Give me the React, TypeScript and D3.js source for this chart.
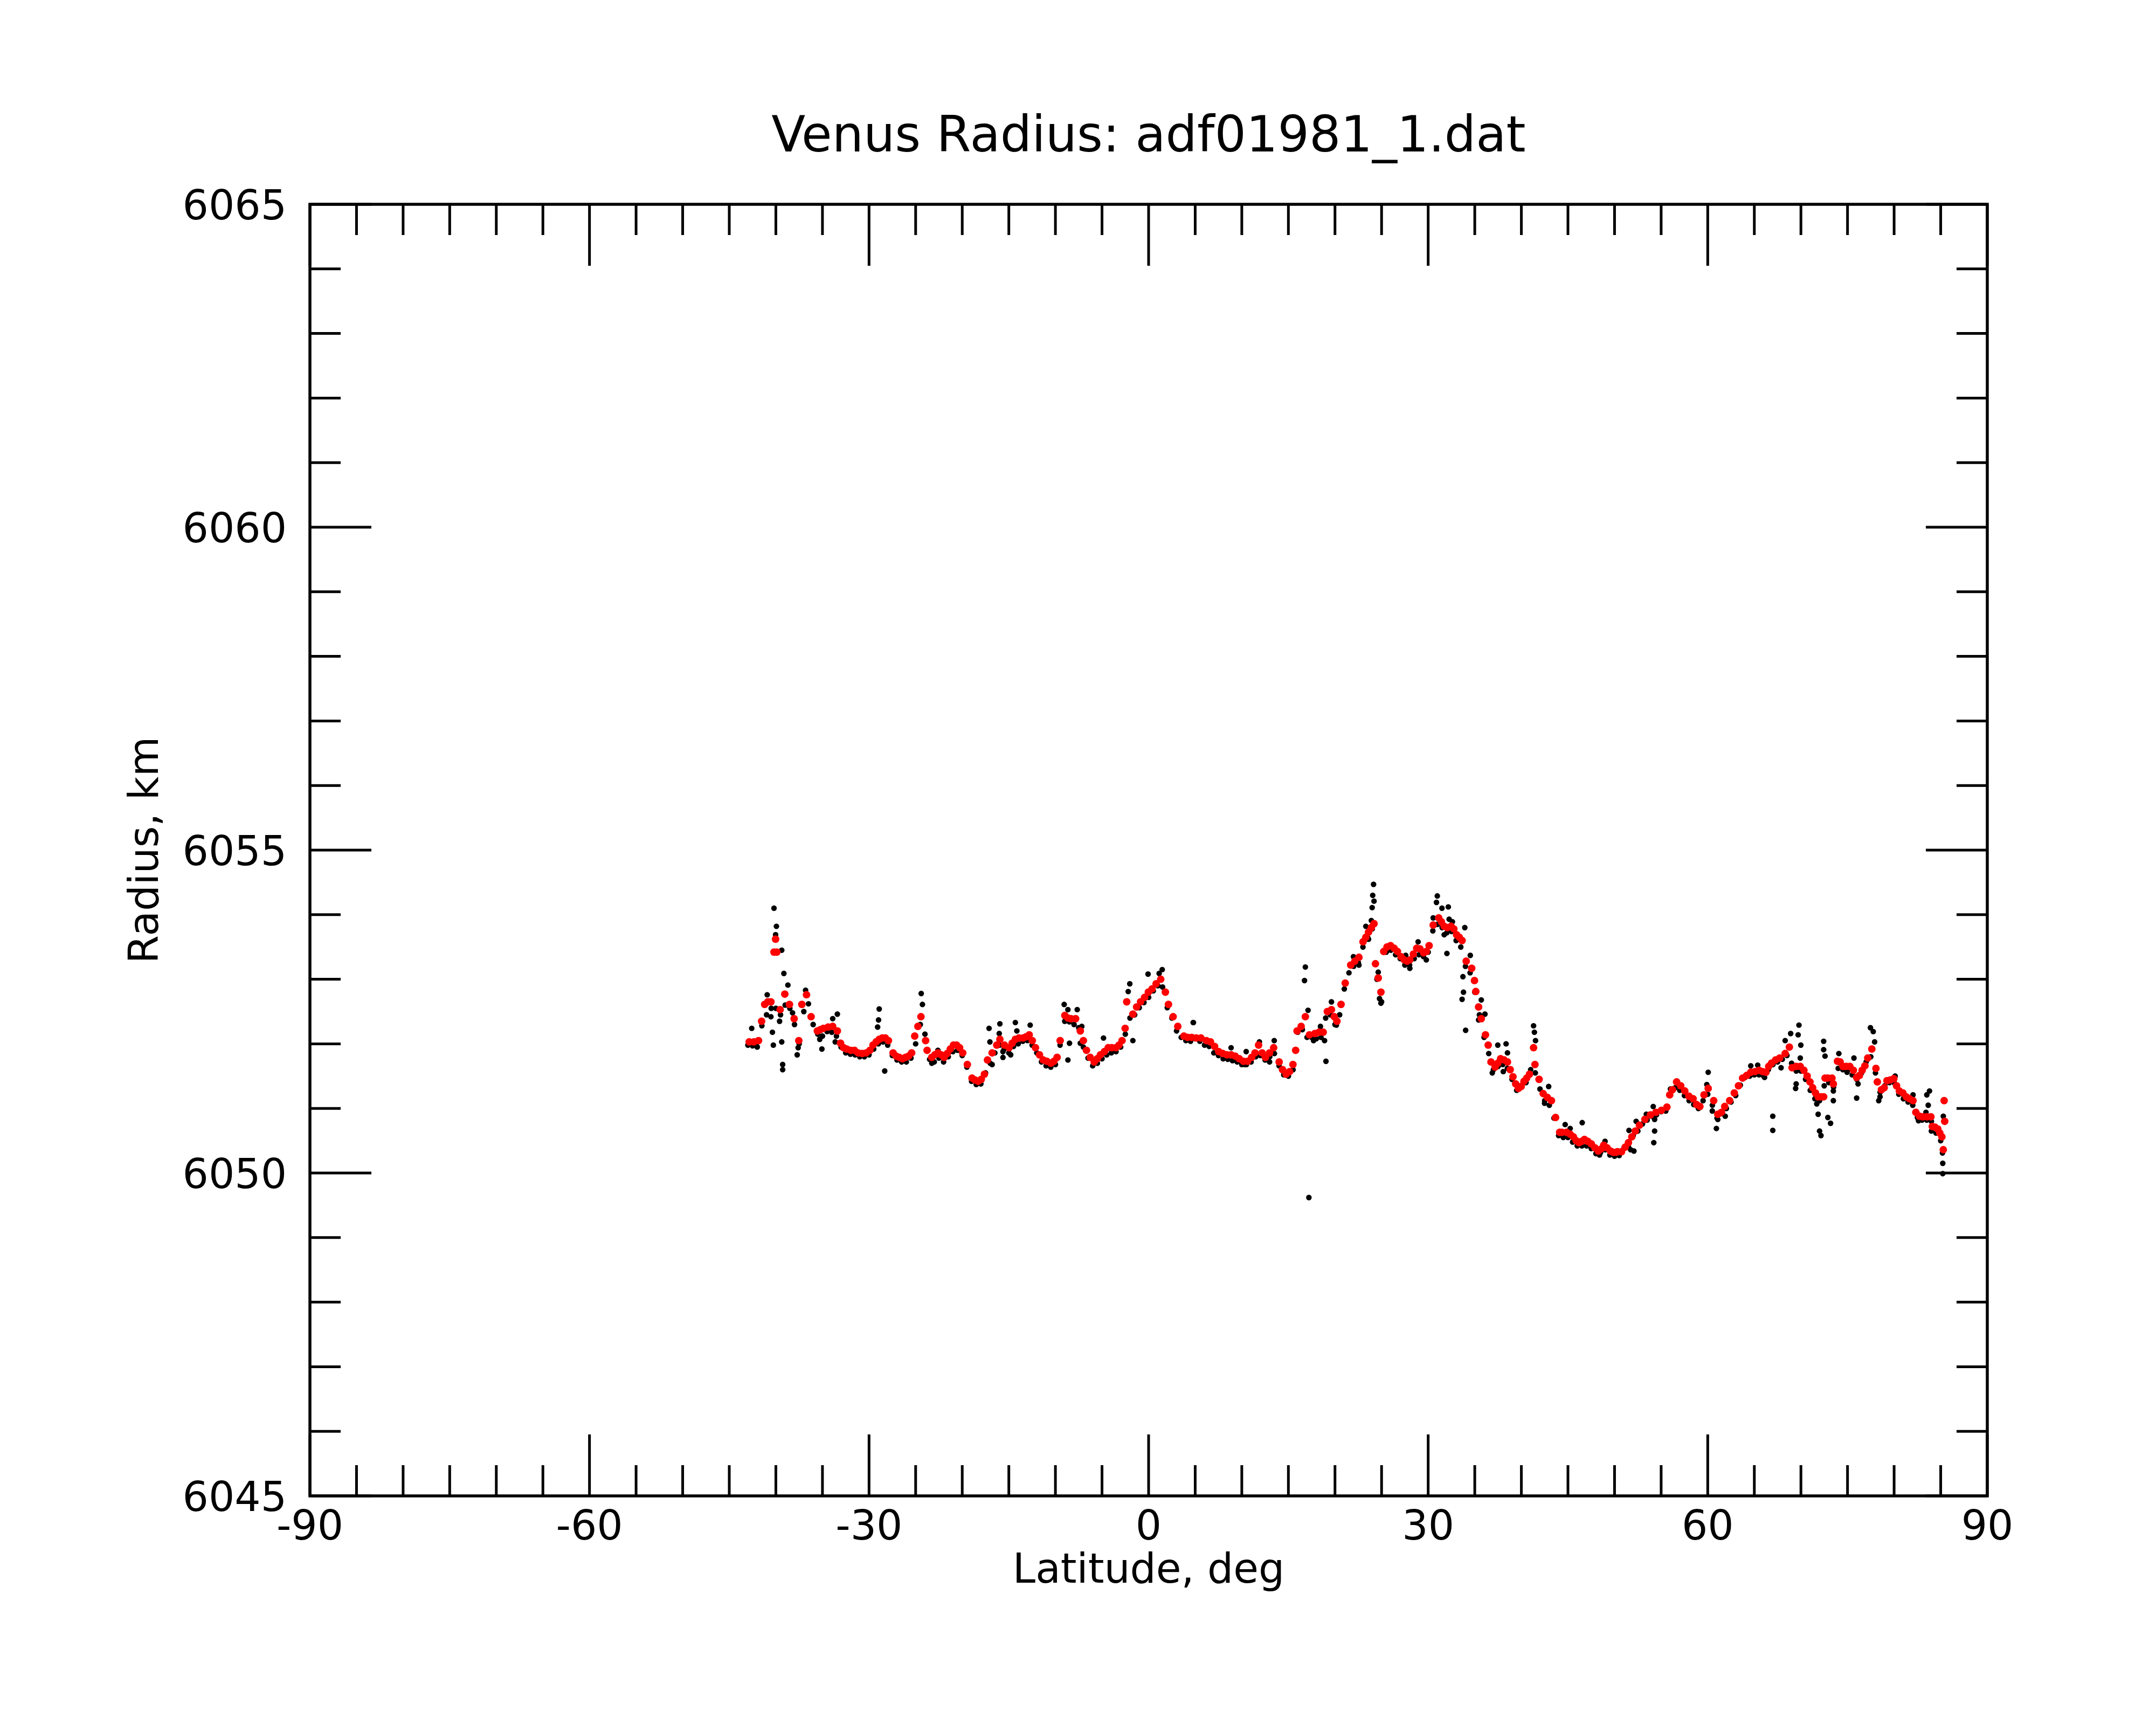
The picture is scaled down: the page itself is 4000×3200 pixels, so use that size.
import * as d3 from 'd3';

const W = 4000, H = 3200;
const M = { left: 575, right: 3687, top: 379, bottom: 2775 };

const TITLE = 'Venus Radius: adf01981_1.dat';
const X_LABEL = 'Latitude, deg';
const Y_LABEL = 'Radius, km';

const X_TICKS = [-90, -60, -30, 0, 30, 60, 90];
const Y_TICKS = [6045, 6050, 6055, 6060, 6065];

// smoothed profile (red) : [latitude, radius]
const SMOOTH: [number, number][] = [
  [-42.86, 6052.03], [-42.36, 6052.03], [-41.86, 6052.05], [-41.53, 6052.35], [-41.2, 6052.61],
  [-40.86, 6052.65], [-40.53, 6052.65], [-40.2, 6053.42], [-40.03, 6053.62], [-39.9, 6053.42],
  [-39.54, 6052.53], [-39.04, 6052.77], [-38.54, 6052.61], [-38.04, 6052.39], [-37.54, 6052.05],
  [-37.21, 6052.61], [-36.71, 6052.76], [-36.22, 6052.42], [-35.55, 6052.2], [-35.22, 6052.22],
  [-34.89, 6052.24], [-34.39, 6052.26], [-33.9, 6052.27], [-33.4, 6052.2], [-33.06, 6052.01],
  [-32.73, 6051.94], [-32.4, 6051.92], [-31.97, 6051.9], [-31.57, 6051.9], [-31.17, 6051.86],
  [-30.74, 6051.85], [-30.31, 6051.86], [-29.91, 6051.9], [-29.58, 6051.98], [-29.24, 6052.03],
  [-28.91, 6052.07], [-28.58, 6052.09], [-28.25, 6052.09], [-27.92, 6052.05], [-27.42, 6051.86],
  [-27.09, 6051.81], [-26.76, 6051.79], [-26.42, 6051.77], [-26.09, 6051.79], [-25.76, 6051.81],
  [-25.43, 6051.86], [-25.1, 6052.12], [-24.76, 6052.27], [-24.43, 6052.42], [-23.93, 6052.05],
  [-23.77, 6051.9], [-23.27, 6051.79], [-22.94, 6051.83], [-22.61, 6051.86], [-22.27, 6051.83],
  [-21.94, 6051.79], [-21.61, 6051.85], [-21.28, 6051.92], [-20.94, 6051.98], [-20.61, 6051.98],
  [-20.28, 6051.94], [-19.95, 6051.86], [-19.45, 6051.68], [-18.95, 6051.47], [-18.62, 6051.44],
  [-18.29, 6051.42], [-17.96, 6051.45], [-17.62, 6051.53], [-17.29, 6051.75], [-16.79, 6051.86],
  [-16.3, 6051.98], [-15.96, 6052.07], [-15.47, 6051.98], [-14.97, 6051.94], [-14.64, 6052.01],
  [-14.3, 6052.07], [-13.91, 6052.09], [-13.47, 6052.09], [-13.14, 6052.11], [-12.81, 6052.14],
  [-12.48, 6052.05], [-12.14, 6051.94], [-11.71, 6051.83], [-11.31, 6051.75], [-10.92, 6051.73],
  [-10.48, 6051.7], [-10.16, 6051.73], [-9.82, 6051.79], [-9.49, 6052.05], [-8.99, 6052.44],
  [-8.66, 6052.4], [-8.33, 6052.39], [-7.83, 6052.39], [-7.33, 6052.2], [-7.0, 6052.05],
  [-6.67, 6051.9], [-6.27, 6051.79], [-5.84, 6051.72], [-5.51, 6051.77], [-5.17, 6051.83],
  [-4.74, 6051.88], [-4.34, 6051.94], [-3.95, 6051.94], [-3.51, 6051.94], [-3.18, 6051.98],
  [-2.85, 6052.05], [-2.52, 6052.24], [-2.35, 6052.65], [-1.69, 6052.46], [-1.29, 6052.57],
  [-0.86, 6052.65], [-0.43, 6052.72], [-0.03, 6052.8], [0.37, 6052.85], [0.8, 6052.93],
  [1.3, 6053.0], [1.8, 6052.8], [2.13, 6052.61], [2.63, 6052.42], [3.13, 6052.27],
  [3.79, 6052.12], [4.19, 6052.1], [4.62, 6052.1], [5.12, 6052.09], [5.62, 6052.09],
  [6.21, 6052.05], [6.64, 6052.03], [7.08, 6051.96], [7.52, 6051.88], [7.96, 6051.85],
  [8.41, 6051.83], [8.85, 6051.83], [9.29, 6051.81], [9.73, 6051.77], [10.18, 6051.73],
  [10.62, 6051.73], [11.06, 6051.79], [11.42, 6051.86], [11.8, 6051.98], [12.18, 6051.86],
  [12.54, 6051.79], [12.98, 6051.86], [13.42, 6051.94], [14.01, 6051.72], [14.37, 6051.6],
  [14.75, 6051.53], [15.13, 6051.57], [15.49, 6051.68], [15.78, 6051.9], [15.93, 6052.2],
  [16.37, 6052.27], [16.82, 6052.42], [17.26, 6052.14], [17.85, 6052.16], [18.29, 6052.18],
  [18.74, 6052.18], [19.18, 6052.5], [19.62, 6052.53], [19.92, 6052.42], [20.21, 6052.35],
  [20.65, 6052.61], [21.1, 6052.94], [21.69, 6053.22], [22.13, 6053.28], [22.57, 6053.34],
  [23.01, 6053.58], [23.31, 6053.65], [23.6, 6053.73], [23.9, 6053.8], [24.19, 6053.86],
  [24.34, 6053.24], [24.64, 6053.02], [24.93, 6052.8], [25.23, 6053.43], [25.58, 6053.5],
  [25.96, 6053.52], [26.35, 6053.48], [26.7, 6053.43], [27.09, 6053.35], [27.44, 6053.3],
  [27.74, 6053.28], [28.03, 6053.3], [28.41, 6053.39], [28.77, 6053.48], [29.12, 6053.47],
  [29.51, 6053.41], [29.8, 6053.43], [30.1, 6053.52], [30.54, 6053.84], [31.13, 6053.95],
  [31.42, 6053.89], [31.72, 6053.82], [32.07, 6053.8], [32.46, 6053.82], [32.75, 6053.78],
  [33.05, 6053.69], [33.34, 6053.65], [33.64, 6053.6], [34.08, 6053.28], [34.67, 6053.17],
  [34.97, 6052.98], [35.11, 6052.81], [35.41, 6052.57], [35.7, 6052.39], [36.15, 6052.14],
  [36.44, 6051.98], [36.74, 6051.72], [37.18, 6051.64], [37.47, 6051.7], [37.77, 6051.77],
  [38.15, 6051.75], [38.51, 6051.72], [38.8, 6051.6], [39.1, 6051.49], [39.39, 6051.38],
  [39.69, 6051.31], [39.98, 6051.34], [40.28, 6051.42], [40.57, 6051.47], [40.87, 6051.53],
  [41.31, 6051.94], [41.46, 6051.68], [41.9, 6051.45], [42.34, 6051.23], [42.79, 6051.17],
  [43.23, 6051.12], [43.67, 6050.86], [44.11, 6050.63], [44.35, 6050.63], [44.85, 6050.63],
  [45.24, 6050.6], [45.59, 6050.56], [45.88, 6050.5], [46.18, 6050.47], [46.47, 6050.49],
  [46.77, 6050.52], [47.12, 6050.49], [47.51, 6050.45], [47.89, 6050.39], [48.25, 6050.34],
  [48.54, 6050.37], [48.84, 6050.43], [49.19, 6050.39], [49.57, 6050.34], [49.87, 6050.32],
  [50.16, 6050.32], [50.31, 6050.33], [50.75, 6050.33], [51.14, 6050.4], [51.49, 6050.47],
  [51.85, 6050.56], [52.23, 6050.65], [52.67, 6050.74], [53.26, 6050.83], [53.85, 6050.9],
  [54.44, 6050.94], [55.03, 6050.97], [55.62, 6051.02], [55.92, 6051.21], [56.21, 6051.29],
  [56.66, 6051.41], [57.1, 6051.35], [57.54, 6051.27], [57.98, 6051.19], [58.43, 6051.15],
  [58.81, 6051.06], [59.16, 6051.03], [59.6, 6051.21], [60.05, 6051.31], [60.64, 6051.12],
  [61.08, 6050.91], [61.47, 6050.94], [61.82, 6051.03], [62.35, 6051.12], [62.85, 6051.24],
  [63.3, 6051.35], [63.74, 6051.47], [64.18, 6051.51], [64.62, 6051.56], [65.07, 6051.57],
  [65.51, 6051.59], [65.89, 6051.57], [66.25, 6051.56], [66.54, 6051.65], [66.84, 6051.7],
  [67.28, 6051.75], [67.72, 6051.78], [68.31, 6051.85], [68.76, 6051.95], [69.05, 6051.63],
  [69.49, 6051.65], [69.93, 6051.65], [70.32, 6051.59], [70.67, 6051.5], [70.97, 6051.41],
  [71.26, 6051.32], [71.56, 6051.24], [71.85, 6051.18], [72.15, 6051.18], [72.44, 6051.18],
  [72.59, 6051.47], [72.89, 6051.47], [73.33, 6051.47], [73.48, 6051.38], [73.92, 6051.73],
  [74.21, 6051.72], [74.51, 6051.65], [74.86, 6051.65], [75.25, 6051.65], [75.63, 6051.59],
  [75.98, 6051.48], [76.28, 6051.51], [76.57, 6051.59], [76.87, 6051.66], [77.17, 6051.78],
  [77.61, 6051.92], [78.05, 6051.62], [78.2, 6051.41], [78.64, 6051.29], [78.94, 6051.32],
  [79.23, 6051.43], [79.58, 6051.44], [79.97, 6051.46], [80.26, 6051.35], [80.56, 6051.27],
  [80.94, 6051.24], [81.3, 6051.18], [81.65, 6051.15], [82.03, 6051.12], [82.33, 6050.94],
  [82.71, 6050.88], [83.07, 6050.87], [83.51, 6050.87], [83.95, 6050.87], [84.1, 6050.72],
  [84.39, 6050.71], [84.69, 6050.68], [84.9, 6050.62], [85.13, 6050.56], [85.28, 6050.36],
  [85.43, 6050.8], [85.37, 6051.12],
];

// raw samples (black) : [latitude, radius]
const RAW: [number, number][] = [
  [-43, 6051.98], [-42, 6051.95], [-41, 6052.45], [-40, 6052.55], [-39, 6052.6], [-38, 6052.3],
  [-37, 6052.5], [-36, 6052.3], [-35, 6052.12], [-34, 6052.18], [-33, 6051.95], [-32, 6051.84],
  [-31, 6051.8], [-30, 6051.83], [-29, 6052.0], [-28, 6051.98], [-27, 6051.75], [-26, 6051.72],
  [-25, 6052.0], [-24, 6052.15], [-23, 6051.72], [-22, 6051.72], [-21, 6051.88], [-20, 6051.82],
  [-19, 6051.42], [-18, 6051.38], [-17, 6051.7], [-16, 6051.98], [-15, 6051.86], [-14, 6052.0],
  [-13, 6052.05], [-12, 6051.86], [-11, 6051.66], [-10, 6051.68], [-9, 6052.35], [-8, 6052.3],
  [-7, 6051.95], [-6, 6051.66], [-5, 6051.77], [-4, 6051.86], [-3, 6051.95], [-2, 6052.4],
  [-1, 6052.56], [0, 6052.72], [1, 6052.9], [2, 6052.56], [3, 6052.2], [4, 6052.05],
  [5, 6052.08], [6, 6051.98], [7, 6051.86], [8, 6051.77], [9, 6051.74], [10, 6051.68],
  [11, 6051.72], [12, 6051.82], [13, 6051.8], [14, 6051.66], [15, 6051.5], [16, 6052.18],
  [17, 6052.1], [18, 6052.08], [19, 6052.4], [20, 6052.3], [21, 6052.85], [22, 6053.2],
  [23, 6053.5], [24, 6053.78], [25, 6052.65], [26, 6053.45], [27, 6053.32], [28, 6053.22],
  [29, 6053.38], [30, 6053.42], [31, 6053.85], [32, 6053.72], [33, 6053.6], [34, 6053.2],
  [35, 6052.8], [36, 6052.1], [37, 6051.6], [38, 6051.68], [39, 6051.45], [40, 6051.33],
  [41, 6051.6], [42, 6051.3], [43, 6051.05], [44, 6050.58], [45, 6050.55], [46, 6050.42],
  [47, 6050.42], [48, 6050.3], [49, 6050.36], [50, 6050.26], [51, 6050.38], [52, 6050.58],
  [53, 6050.76], [54, 6050.88], [55, 6050.95], [56, 6051.3], [57, 6051.28], [58, 6051.12],
  [59, 6051.0], [60, 6051.22], [61, 6050.85], [62, 6051.0], [63, 6051.2], [64, 6051.48],
  [65, 6051.52], [66, 6051.5], [67, 6051.68], [68, 6051.76], [69, 6051.7], [70, 6051.58],
  [71, 6051.28], [72, 6051.12], [73, 6051.4], [74, 6051.62], [75, 6051.6], [76, 6051.45],
  [77, 6051.72], [78, 6051.55], [79, 6051.35], [80, 6051.4], [81, 6051.15], [82, 6051.05],
  [83, 6050.82], [84, 6050.8], [85, 6050.5],
  [-42.5, 6051.97], [-41.5, 6052.28], [-40.5, 6052.55], [-39.5, 6052.45], [-38.5, 6052.55],
  [-37.5, 6052.0], [-36.5, 6052.62], [-35.5, 6052.15], [-34.5, 6052.19], [-33.5, 6052.12],
  [-32.5, 6051.86], [-31.5, 6051.83], [-30.5, 6051.8], [-29.5, 6051.92], [-28.5, 6052.03],
  [-27.5, 6051.82], [-26.5, 6051.72], [-25.5, 6051.78], [-24.5, 6052.3], [-23.5, 6051.76],
  [-22.5, 6051.78], [-21.5, 6051.8], [-20.5, 6051.9], [-19.5, 6051.64], [-18.5, 6051.37],
  [-17.5, 6051.55], [-16.5, 6051.86], [-15.5, 6051.92], [-14.5, 6051.96], [-13.5, 6052.04],
  [-12.5, 6051.98], [-11.5, 6051.72], [-10.5, 6051.64], [-9.5, 6051.98], [-8.5, 6052.34],
  [-7.5, 6052.25], [-6.5, 6051.78], [-5.5, 6051.7], [-4.5, 6051.83], [-3.5, 6051.88],
  [-2.5, 6052.15], [-1.5, 6052.45], [-0.5, 6052.64], [0.5, 6052.82], [1.5, 6052.88],
  [2.5, 6052.4], [3.5, 6052.1], [4.5, 6052.04], [5.5, 6052.04], [6.5, 6051.96],
  [7.5, 6051.82], [8.5, 6051.76], [9.5, 6051.72], [10.5, 6051.68], [11.5, 6051.8],
  [12.5, 6051.75], [13.5, 6051.85], [14.5, 6051.52], [15.5, 6051.6], [16.5, 6052.22],
  [17.5, 6052.1], [18.5, 6052.1], [19.5, 6052.45], [20.5, 6052.45], [21.5, 6053.1],
  [22.5, 6053.26], [23.5, 6053.65], [24.5, 6053.0], [25.5, 6053.42], [26.5, 6053.38],
  [27.5, 6053.22], [28.5, 6053.32], [29.5, 6053.35], [30.5, 6053.75], [31.5, 6053.8],
  [32.5, 6053.74], [33.5, 6053.5], [34.5, 6053.1], [35.5, 6052.45], [36.5, 6051.85],
  [37.5, 6051.65], [38.5, 6051.62], [39.5, 6051.28], [40.5, 6051.4], [41.5, 6051.55],
  [42.5, 6051.12], [43.5, 6050.85], [44.5, 6050.55], [45.5, 6050.48], [46.5, 6050.42],
  [47.5, 6050.38], [48.5, 6050.32], [49.5, 6050.28], [50.5, 6050.27], [51.5, 6050.4],
  [52.5, 6050.65], [53.5, 6050.82], [54.5, 6050.9], [55.5, 6050.96], [56.5, 6051.32],
  [57.5, 6051.2], [58.5, 6051.06], [59.5, 6051.12], [60.5, 6051.05], [61.5, 6050.92],
  [62.5, 6051.1], [63.5, 6051.36], [64.5, 6051.5], [65.5, 6051.52], [66.5, 6051.6],
  [67.5, 6051.72], [68.5, 6051.82], [69.5, 6051.58], [70.5, 6051.45], [71.5, 6051.15],
  [72.5, 6051.35], [73.5, 6051.33], [74.5, 6051.6], [75.5, 6051.52], [76.5, 6051.55],
  [77.5, 6051.8], [78.5, 6051.25], [79.5, 6051.4], [80.5, 6051.22], [81.5, 6051.1],
  [82.5, 6050.86], [83.5, 6050.82], [84.5, 6050.62],
  // scattered samples
  [-40.2, 6054.1], [-39.94, 6053.82], [-40.03, 6053.69], [-39.37, 6053.45], [-39.14, 6053.09],
  [-38.71, 6052.91], [-40.93, 6052.76], [-42.59, 6052.24], [-42.03, 6051.96], [-40.53, 6052.42],
  [-40.37, 6052.18], [-40.27, 6051.98], [-39.6, 6052.35], [-39.37, 6052.03], [-39.27, 6051.68],
  [-39.27, 6051.6], [-37.61, 6051.94], [-37.71, 6051.83], [-38.21, 6052.48], [-36.81, 6052.83],
  [-35.06, 6051.92], [-35.29, 6052.07], [-33.9, 6052.39], [-33.4, 6052.46], [-33.63, 6052.03],
  [-28.91, 6052.54], [-28.98, 6052.37], [-29.08, 6052.26], [-28.32, 6051.58], [-24.4, 6052.78],
  [-24.27, 6052.61], [-23.27, 6051.7], [-22.61, 6051.9], [-17.12, 6052.24], [-17.03, 6052.03],
  [-16.79, 6051.68], [-15.96, 6052.31], [-16.03, 6052.16], [-15.63, 6051.88], [-15.63, 6051.79],
  [-14.3, 6052.33], [-14.14, 6052.2], [-14.8, 6051.83], [-12.71, 6052.29], [-9.06, 6052.61],
  [-8.66, 6052.53], [-7.66, 6052.53], [-8.49, 6052.01], [-8.66, 6051.75], [-7.17, 6052.27],
  [-7.33, 6052.01], [-4.84, 6052.09], [-2.02, 6052.93], [-2.19, 6052.81], [-1.69, 6052.05],
  [-0.06, 6053.08], [1.13, 6053.09], [1.46, 6053.15], [4.78, 6052.33],
  [4.81, 6052.33], [8.85, 6051.94], [10.47, 6051.88], [10.32, 6051.68], [11.89, 6052.03],
  [13.48, 6052.05], [12.98, 6051.72], [16.82, 6053.19], [16.73, 6052.98], [17.11, 6052.52],
  [17.2, 6049.62], [17.7, 6052.05], [18.44, 6052.27], [19.03, 6051.73], [18.88, 6052.05],
  [19.62, 6052.65], [20.15, 6052.29], [21.98, 6053.35], [22.57, 6053.22], [23.31, 6053.82],
  [23.6, 6053.62], [24.14, 6054.47], [24.05, 6054.3], [24.19, 6054.21], [23.99, 6054.11],
  [23.9, 6053.91], [24.78, 6052.7], [24.93, 6052.63], [24.64, 6053.11], [25.67, 6053.45],
  [27.59, 6053.37], [28.03, 6053.17], [28.92, 6053.58], [29.8, 6053.3], [30.98, 6054.29],
  [30.89, 6054.19], [31.48, 6054.1], [32.16, 6054.12], [30.54, 6053.95], [32.25, 6053.93],
  [32.6, 6053.89], [31.72, 6053.69], [32.01, 6053.4], [33.93, 6053.8], [34.52, 6053.37],
  [33.73, 6053.04], [33.79, 6052.8], [33.64, 6052.69], [34.02, 6052.21], [35.7, 6052.68],
  [36.09, 6052.46], [35.41, 6052.37], [37.47, 6051.98], [38.36, 6052.0], [38.51, 6051.86],
  [36.88, 6051.55], [38.06, 6051.57], [41.31, 6052.28], [41.4, 6052.18], [41.52, 6052.05],
  [42.49, 6051.08], [42.93, 6051.34], [44.7, 6050.75], [45.24, 6050.69], [46.53, 6050.78],
  [48.39, 6050.28], [48.98, 6050.49],
  [51.55, 6050.66], [51.73, 6050.36], [52.08, 6050.34], [52.32, 6050.8], [54.15, 6051.03],
  [54.3, 6050.83], [54.3, 6050.65], [54.21, 6050.47], [53.41, 6050.91], [60.05, 6051.56],
  [59.9, 6051.37], [60.49, 6050.96], [60.93, 6050.69], [61.08, 6050.83], [61.88, 6050.88],
  [64.62, 6051.66], [65.36, 6051.67], [66.1, 6051.48], [66.98, 6050.88], [66.98, 6050.66],
  [67.87, 6051.63], [68.31, 6052.05], [68.9, 6052.16], [69.79, 6052.29], [69.7, 6052.14],
  [69.99, 6051.98], [69.93, 6051.78], [69.43, 6051.31], [69.49, 6051.38], [71.7, 6051.07],
  [71.85, 6050.91], [72.0, 6050.65], [72.15, 6050.58], [72.44, 6052.04], [72.44, 6051.91],
  [72.59, 6051.81], [72.89, 6050.86], [73.18, 6050.77], [73.48, 6051.12], [73.48, 6051.27],
  [74.07, 6051.85], [74.95, 6051.56], [75.69, 6051.78], [76.13, 6051.38], [75.98, 6051.16],
  [77.46, 6052.25], [77.76, 6052.19], [77.91, 6052.03], [78.35, 6051.12], [78.49, 6051.18],
  [80.11, 6051.5], [81.59, 6051.12], [82.03, 6051.21], [82.62, 6050.81], [83.51, 6051.21],
  [83.8, 6051.27], [83.66, 6051.05], [83.42, 6050.94], [84.0, 6050.65], [85.28, 6050.88],
  [85.19, 6050.31], [85.22, 6050.15], [85.22, 6049.99],
];

const FONT = 'DejaVu Sans, sans-serif';

export default function App() {
  const x = d3.scaleLinear().domain([-90, 90]).range([M.left, M.right]);
  const y = d3.scaleLinear().domain([6045, 6065]).range([M.bottom, M.top]);

  const xMinor = d3.range(-90, 90.1, 5).filter((v) => !X_TICKS.includes(v));
  const yMinor = d3.range(6045, 6065.1, 1).filter((v) => !Y_TICKS.includes(v));
  const major = 114, minor = 57, sw = 5;

  return (
    <svg width={W} height={H} viewBox={`0 0 ${W} ${H}`}
      style={{ position: 'absolute', left: 0, top: 0, background: '#fff' }}>
      <rect width={W} height={H} fill="#fff" />

      {/* data */}
      <g>
        {RAW.map(([lat, r], i) => (
          <circle key={'b' + i} cx={x(lat)} cy={y(r)} r={5.2} fill="#000" />
        ))}
        {SMOOTH.map(([lat, r], i) => (
          <circle key={'r' + i} cx={x(lat)} cy={y(r)} r={7} fill="#ff0000" />
        ))}
      </g>

      {/* ticks */}
      <g stroke="#000" strokeWidth={sw}>
        {X_TICKS.map((v) => (
          <g key={'xm' + v}>
            <line x1={x(v)} x2={x(v)} y1={M.bottom} y2={M.bottom - major} />
            <line x1={x(v)} x2={x(v)} y1={M.top} y2={M.top + major} />
          </g>
        ))}
        {xMinor.map((v) => (
          <g key={'xn' + v}>
            <line x1={x(v)} x2={x(v)} y1={M.bottom} y2={M.bottom - minor} />
            <line x1={x(v)} x2={x(v)} y1={M.top} y2={M.top + minor} />
          </g>
        ))}
        {Y_TICKS.map((v) => (
          <g key={'ym' + v}>
            <line x1={M.left} x2={M.left + major} y1={y(v)} y2={y(v)} />
            <line x1={M.right} x2={M.right - major} y1={y(v)} y2={y(v)} />
          </g>
        ))}
        {yMinor.map((v) => (
          <g key={'yn' + v}>
            <line x1={M.left} x2={M.left + minor} y1={y(v)} y2={y(v)} />
            <line x1={M.right} x2={M.right - minor} y1={y(v)} y2={y(v)} />
          </g>
        ))}
        <rect x={M.left} y={M.top} width={M.right - M.left} height={M.bottom - M.top}
          fill="none" strokeWidth={5.5} />
      </g>

      {/* tick labels */}
      <g fontFamily={FONT} fontSize={76} fill="#000">
        {X_TICKS.map((v) => (
          <text key={'xl' + v} x={x(v)} y={M.bottom + 81} textAnchor="middle">{v}</text>
        ))}
        {Y_TICKS.map((v) => (
          <text key={'yl' + v} x={M.left - 43} y={y(v) + 28} textAnchor="end">{v}</text>
        ))}
        <text x={(M.left + M.right) / 2} y={2936} textAnchor="middle">{X_LABEL}</text>
        <text transform={`translate(293, ${(M.top + M.bottom) / 2}) rotate(-90)`} textAnchor="middle">
          {Y_LABEL}
        </text>
      </g>

      <text x={(M.left + M.right) / 2} y={281} textAnchor="middle" fontFamily={FONT} fontSize={92}>
        {TITLE}
      </text>
    </svg>
  );
}
